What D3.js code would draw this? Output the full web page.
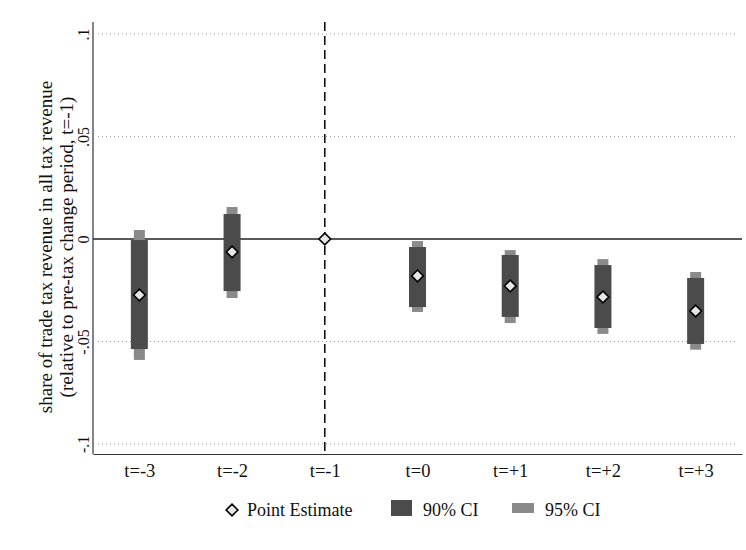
<!DOCTYPE html>
<html>
<head>
<meta charset="utf-8">
<script src="https://cdn.jsdelivr.net/npm/d3@7/dist/d3.min.js"></script>
<style>
  body { margin: 0; background: #fff; }
  svg { display: block; font-family: "Liberation Serif", "DejaVu Serif", serif; }
</style>
</head>
<body>
<svg id="chart" width="746" height="550"></svg>
<script>
// Event-study estimates by period relative to the tax change
const periods = [-3, -2, -1, 0, 1, 2, 3];
const periodLabels = ["t=-3", "t=-2", "t=-1", "t=0", "t=+1", "t=+2", "t=+3"];
const estimate = [-0.0273, -0.0063, 0.0, -0.0180, -0.0229, -0.0283, -0.0351];
const ci90Low  = [-0.0537, -0.0254, null, -0.0332, -0.0380, -0.0434, -0.0512];
const ci90High = [-0.0005,  0.0122, null, -0.0039, -0.0078, -0.0127, -0.0190];
const ci95Low  = [-0.0590, -0.0288, null, -0.0356, -0.0410, -0.0463, -0.0540];
const ci95High = [ 0.0044,  0.0156, null, -0.0010, -0.0054, -0.0098, -0.0161];
const yTicks = [-0.1, -0.05, 0, 0.05, 0.1];
const yTickLabels = ["-.1", "-.05", "0", ".05", ".1"];

const svg = d3.select("#chart");
const plotLeft = 93, plotRight = 742, plotTop = 22, plotBottom = 454;
const serif = "Liberation Serif, serif";

const x = d3.scaleLinear().domain([-3.5, 3.5]).range([plotLeft, plotRight]);
const y = d3.scaleLinear().domain([-0.1049, 0.1059]).range([plotBottom, plotTop]);

const darkFill = "#4b4b4b", lightFill = "#8a8a8a";

// dotted grid lines
svg.append("g").selectAll("line")
  .data(yTicks.filter(v => v !== 0))
  .join("line")
  .attr("x1", plotLeft + 5).attr("x2", plotRight - 5)
  .attr("y1", d => y(d)).attr("y2", d => y(d))
  .attr("stroke", "#9a9a9a").attr("stroke-width", 1)
  .attr("stroke-dasharray", "1,3");

// reference line at zero
svg.append("line")
  .attr("x1", plotLeft).attr("x2", plotRight)
  .attr("y1", y(0)).attr("y2", y(0))
  .attr("stroke", "#222").attr("stroke-width", 1.6);

// dashed line at the base period
svg.append("line")
  .attr("x1", x(-1)).attr("x2", x(-1))
  .attr("y1", plotTop).attr("y2", plotBottom)
  .attr("stroke", "#111").attr("stroke-width", 1.6)
  .attr("stroke-dasharray", "9,5");

const rows = periods.map((p, i) => ({
  p, est: estimate[i], l90: ci90Low[i], h90: ci90High[i], l95: ci95Low[i], h95: ci95High[i]
})).filter(d => d.l90 !== null);

// 95% CI (lighter, narrower)
svg.append("g").selectAll("rect")
  .data(rows).join("rect")
  .attr("x", d => x(d.p) - 5.5).attr("width", 11)
  .attr("y", d => y(d.h95)).attr("height", d => y(d.l95) - y(d.h95))
  .attr("fill", lightFill);

// 90% CI (darker, wider)
svg.append("g").selectAll("rect")
  .data(rows).join("rect")
  .attr("x", d => x(d.p) - 8.5).attr("width", 17)
  .attr("y", d => y(d.h90)).attr("height", d => y(d.l90) - y(d.h90))
  .attr("fill", darkFill);

// point estimates
const diamond = d3.symbol().type(d3.symbolDiamond2).size(88);
svg.append("g").selectAll("path")
  .data(periods.map((p, i) => ({ p, est: estimate[i] })))
  .join("path")
  .attr("d", diamond)
  .attr("transform", d => `translate(${x(d.p)},${y(d.est)})`)
  .attr("fill", "#e6e6e6").attr("stroke", "#000").attr("stroke-width", 1.6);

// axes
const xAxis = d3.axisBottom(x).tickValues(periods)
  .tickFormat((d, i) => periodLabels[i]).tickSize(0).tickPadding(10);
const gx = svg.append("g").attr("transform", `translate(0,${plotBottom})`).call(xAxis);
gx.select(".domain").attr("stroke", "#333").attr("stroke-width", 1.2);
gx.selectAll("text").attr("font-size", 18.5).attr("fill", "#111")
  .attr("font-family", serif);

const yAxis = d3.axisLeft(y).tickValues(yTicks)
  .tickFormat((d, i) => yTickLabels[i]).tickSize(0).tickPadding(0);
const gy = svg.append("g").attr("transform", `translate(${plotLeft},0)`).call(yAxis);
gy.select(".domain").attr("stroke", "#333").attr("stroke-width", 1.2)
  .attr("d", `M0,${plotTop}V${plotBottom}`);
gy.selectAll(".tick text")
  .attr("font-size", 16).attr("fill", "#111")
  .attr("font-family", serif)
  .attr("x", 0).attr("dy", 0)
  .attr("text-anchor", "middle")
  .attr("transform", "translate(-4,0) rotate(-90)");

// y-axis title
const title = svg.append("text")
  .attr("transform", "translate(0,247) rotate(-90)")
  .attr("text-anchor", "middle").attr("font-size", 19).attr("fill", "#111")
  .attr("font-family", serif);
title.append("tspan").attr("x", 0).attr("y", 52).text("share of trade tax revenue in all tax revenue");
title.append("tspan").attr("x", 0).attr("y", 73).text("(relative to pre-tax change period, t=-1)");

// legend
const lg = svg.append("g").attr("font-family", serif).attr("font-size", 18).attr("fill", "#111");
lg.append("path").attr("d", diamond)
  .attr("transform", "translate(232,510)")
  .attr("fill", "#e6e6e6").attr("stroke", "#000").attr("stroke-width", 1.6);
lg.append("text").attr("x", 247).attr("y", 516).text("Point Estimate");
lg.append("rect").attr("x", 391).attr("y", 500).attr("width", 21).attr("height", 16).attr("fill", darkFill);
lg.append("text").attr("x", 423).attr("y", 516).text("90% CI");
lg.append("rect").attr("x", 512).attr("y", 503).attr("width", 22).attr("height", 10).attr("fill", lightFill);
lg.append("text").attr("x", 545).attr("y", 516).text("95% CI");
</script>
</body>
</html>
